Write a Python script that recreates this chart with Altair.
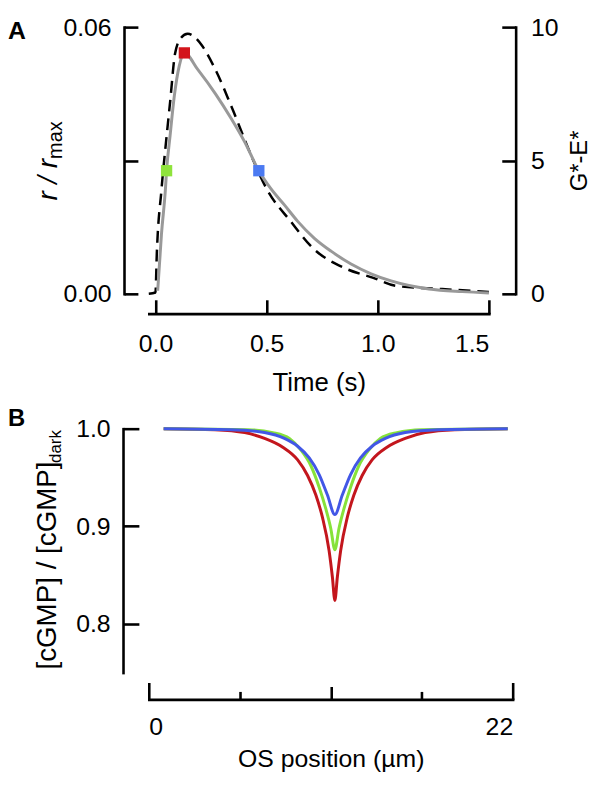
import altair as alt
import pandas as pd

FONT = "Liberation Sans"

# ---------------- Panel A data ----------------
# normalized response r / r_max (grey solid line, left axis)
r_time = [0.01, 0.027, 0.045, 0.05, 0.066, 0.085, 0.107, 0.13, 0.19, 0.27, 0.34, 0.40,
          0.465, 0.52, 0.58, 0.64, 0.715, 0.79, 0.88, 0.97, 1.06, 1.23, 1.38, 1.5]
r_value = [0.0007, 0.0134, 0.0237, 0.0277, 0.0357, 0.0446, 0.0513, 0.0542, 0.0505, 0.0450,
           0.0395, 0.0343, 0.0277, 0.0236, 0.0200, 0.0163, 0.0125, 0.0096, 0.0067, 0.0045,
           0.0029, 0.0011, 0.0005, 0.0002]

# G*-E* (black dashed line, right axis)
g_time = [-0.03, 0.0, 0.006, 0.027, 0.05, 0.066, 0.088, 0.115, 0.145, 0.18, 0.21, 0.27,
          0.34, 0.43, 0.50, 0.61, 0.71, 0.85, 0.98, 1.08, 1.29, 1.5]
g_value = [0.0, 0.05, 1.5, 3.9, 5.9, 7.2, 9.0, 9.6, 9.75, 9.6, 9.3, 8.4,
           7.06, 5.2, 3.94, 2.7, 1.7, 0.97, 0.6, 0.3, 0.18, 0.07]

# marked time points (squares)
sq_label = ["0.05 s", "0.13 s", "0.465 s"]
sq_time = [0.05, 0.13, 0.465]
sq_value = [0.0277, 0.0542, 0.0277]

# ---------------- Panel B data ----------------
b_series = ["0.13 s", "0.05 s", "0.465 s"]
red_pos = [0.9, 4.0, 5.8, 7.0, 8.1, 9.0, 9.6, 10.1, 10.5, 10.9, 11.1, 11.25,
           11.4, 11.6, 12.0, 12.4, 12.9, 13.5, 14.4, 15.5, 16.7, 18.5, 21.7]
red_val = [1.0, 0.999, 0.996, 0.990, 0.981, 0.968, 0.952, 0.932, 0.909, 0.875, 0.848, 0.824,
           0.848, 0.875, 0.909, 0.932, 0.952, 0.968, 0.981, 0.990, 0.996, 0.999, 1.0]
green_pos = [0.9, 6.0, 7.5, 8.5, 9.2, 9.8, 10.3, 10.7, 11.0, 11.25,
             11.5, 11.8, 12.2, 12.7, 13.3, 14.0, 15.0, 16.5, 21.7]
green_val = [1.0, 0.999, 0.996, 0.990, 0.978, 0.962, 0.940, 0.918, 0.898, 0.876,
             0.898, 0.918, 0.940, 0.962, 0.978, 0.990, 0.996, 0.999, 1.0]
blue_pos = [0.9, 5.0, 7.0, 8.2, 9.0, 9.7, 10.3, 10.8, 11.25,
            11.7, 12.2, 12.8, 13.5, 14.3, 15.5, 17.5, 21.7]
blue_val = [1.0, 0.999, 0.996, 0.990, 0.982, 0.970, 0.953, 0.932, 0.912,
            0.932, 0.953, 0.970, 0.982, 0.990, 0.996, 0.999, 1.0]

# ---------------- styling ----------------
SQ_COLORS = ["#8fe33c", "#d3151c", "#4b7af2"]
B_COLORS = {"0.13 s": "#c3161d", "0.05 s": "#86e23a", "0.465 s": "#4257e6"}

W_A, H_A = 343, 269
W_B, H_B = 367, 246
AX = dict(domainColor="black", tickColor="black", labelColor="black", titleColor="black",
          labelFont=FONT, titleFont=FONT, labelFontSize=25,
          titleFontWeight="normal", grid=False, domainWidth=2.6, tickWidth=2.6,
          domainCap="square")

dfr = pd.DataFrame({"t": r_time, "r": r_value})
dfg = pd.DataFrame({"t": g_time, "g": g_value})
dfs = pd.DataFrame({"t": sq_time, "r": sq_value, "label": sq_label})

xA = alt.Scale(domain=[-0.03, 1.5], nice=False, zero=False)
rA = alt.Scale(domain=[0, 0.06], nice=False)
gA = alt.Scale(domain=[0, 10], nice=False)

xA_lab = alt.Axis(orient="bottom", offset=20, values=[0, 0.5, 1.0, 1.5], format=".1f",
                  ticks=False, labelPadding=18, title="Time (s)", titleFontSize=26,
                  titlePadding=13, **AX)
xA_tick = alt.Axis(orient="top", offset=-(H_A + 20), values=[0, 0.5, 1.0, 1.5], tickSize=14,
                   labels=False, domain=False, title=None, **AX)
rA_lab = alt.Axis(orient="left", offset=25, values=[0, 0.06], format=".2f", ticks=False,
                  labelPadding=13, title=None, **AX)
rA_tick = alt.Axis(orient="right", offset=-(W_A + 25), values=[0, 0.03, 0.06], tickSize=14,
                   labels=False, domain=False, title=None, **AX)
gA_lab = alt.Axis(orient="right", offset=27, values=[0, 5, 10], ticks=False, labelPadding=15,
                  title="G*-E*", titleFontSize=24, titleAngle=270, titleBaseline="top",
                  titlePadding=10, **AX)
gA_tick = alt.Axis(orient="left", offset=-(W_A + 27), values=[0, 5, 10], tickSize=14,
                   labels=False, domain=False, title=None, **AX)

g_line = alt.Chart(dfg).mark_line(color="black", strokeWidth=2.5, strokeDash=[12, 7],
                                  interpolate="monotone").encode(
    x=alt.X("t:Q", scale=xA, axis=None),
    y=alt.Y("g:Q", scale=gA, axis=gA_lab))
g_ghost = alt.Chart(dfg).mark_line(strokeOpacity=0).encode(
    x=alt.X("t:Q", scale=xA, axis=None),
    y=alt.Y("g:Q", scale=gA, axis=gA_tick))
g_group = alt.layer(g_line, g_ghost).resolve_axis(y="independent")

r_line = alt.Chart(dfr).mark_line(color="#999999", strokeWidth=3,
                                  interpolate="monotone").encode(
    x=alt.X("t:Q", scale=xA, axis=xA_lab),
    y=alt.Y("r:Q", scale=rA, axis=rA_lab))
r_pts = alt.Chart(dfs).mark_square(size=130, opacity=1).encode(
    x=alt.X("t:Q", scale=xA, axis=xA_tick),
    y=alt.Y("r:Q", scale=rA, axis=rA_tick),
    color=alt.Color("label:N", scale=alt.Scale(domain=sq_label, range=SQ_COLORS), legend=None))
r_group = alt.layer(r_line, r_pts).resolve_axis(x="independent", y="independent")


def txt(s, x, y, size, angle=0, style="normal", weight="normal", align="center",
        baseline="alphabetic"):
    kw = dict(font=FONT, fontSize=size, fontStyle=style, fontWeight=weight, align=align,
              baseline=baseline, color="black")
    if angle:
        kw["angle"] = angle
    return alt.Chart(pd.DataFrame({"s": [s]})).mark_text(**kw).encode(
        text="s:N", x=alt.value(x), y=alt.value(y))


panelA = alt.layer(
    g_group, r_group,
    txt("A", -142, 4, 25, weight="bold", align="left", baseline="middle"),
    txt("r / r", -93, 154, 28, angle=270, style="italic"),
    txt("max", -88, 114, 20, angle=270),
).resolve_scale(y="independent").resolve_axis(x="independent", y="independent").properties(
    width=W_A, height=H_A)

# ---------------- Panel B ----------------
xB = alt.Scale(domain=[0, 22], nice=False, zero=False)
yB = alt.Scale(domain=[0.75, 1.0], nice=False, zero=False)

xB_lab = alt.Axis(orient="bottom", offset=27, values=[0, 5.5, 11, 16.5, 22], ticks=False,
                  labelExpr="datum.value == 0 || datum.value == 22 ? datum.label : ''",
                  labelPadding=15, title="OS position (µm)", titleFontSize=25,
                  titlePadding=8, **AX)
yB_lab = alt.Axis(orient="left", offset=26, values=[0.8, 0.9, 1.0], format=".1f", ticks=False,
                  labelPadding=13, title=None, **AX)
yB_tick = alt.Axis(orient="right", offset=-(W_B + 26), values=[0.8, 0.9, 1.0], tickSize=16,
                   labels=False, domain=False, title=None, **AX)


def xB_tick(vals, size):
    return alt.Axis(orient="top", offset=-(H_B + 27), values=vals, tickSize=size,
                    labels=False, domain=False, title=None, **AX)


series_data = {
    "0.13 s": (red_pos, red_val),
    "0.05 s": (green_pos, green_val),
    "0.465 s": (blue_pos, blue_val),
}
b_layers = []
for i, name in enumerate(b_series):
    pos, val = series_data[name]
    d = pd.DataFrame({"x": pos, "v": val})
    b_layers.append(alt.Chart(d).mark_line(color=B_COLORS[name], strokeWidth=3,
                                           interpolate="monotone").encode(
        x=alt.X("x:Q", scale=xB, axis=xB_lab if i == 0 else None),
        y=alt.Y("v:Q", scale=yB, axis=yB_lab if i == 0 else None)))

ghost_df = pd.DataFrame({"x": red_pos, "v": red_val})
for vals, size, yax in [([0, 22], 17, yB_tick), ([11], 13, None), ([5.5, 16.5], 8, None)]:
    b_layers.append(alt.Chart(ghost_df).mark_line(strokeOpacity=0).encode(
        x=alt.X("x:Q", scale=xB, axis=xB_tick(vals, size)),
        y=alt.Y("v:Q", scale=yB, axis=yax)))

panelB = alt.layer(
    *b_layers,
    txt("B", -142, -10, 24, weight="bold", align="left", baseline="middle"),
    txt("[cGMP] / [cGMP]", -94, 138, 28, angle=270),
    txt("dark", -89, 18, 17, angle=270),
).resolve_axis(x="independent", y="independent").properties(width=W_B, height=H_B)

chart = alt.vconcat(panelA, panelB, spacing=12).properties(
    padding={"left": 0, "top": 4, "right": 0, "bottom": 0}
).configure_view(stroke=None)

chart.save("out.html", embed_options={"renderer": "svg", "actions": False})
